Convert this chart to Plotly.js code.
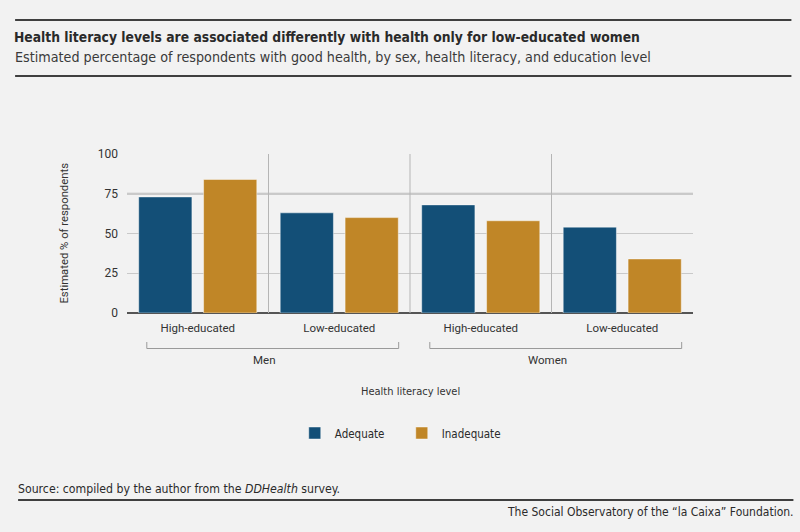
<!DOCTYPE html>
<html>
<head>
<meta charset="utf-8">
<script src="https://cdn.plot.ly/plotly-3.0.1.min.js"></script>
<style>
html,body{margin:0;padding:0;background:#f2f2f2;}
#chart{width:800px;height:532px;}
</style>
</head>
<body>
<div id="chart"></div>
<script>
// ---- data ----
var sexes = ["Men", "Men", "Women", "Women"];
var education = ["High-educated", "Low-educated", "High-educated", "Low-educated"];
var adequate = [73, 63, 68, 54];
var inadequate = [84, 60, 58, 34];
var seriesNames = ["Adequate", "Inadequate"];
var yTicks = [0, 25, 50, 75, 100];

var colors = ["#134f77", "#c08627"];
var condensed = "'DejaVu Sans Condensed', sans-serif";
var regular = "Roboto, 'Liberation Sans', sans-serif";

var keys = sexes.map(function(s, i){ return s + " | " + education[i]; });

var traces = [adequate, inadequate].map(function(vals, k){
  return {
    type: "bar",
    name: seriesNames[k],
    x: keys,
    y: vals,
    marker: {color: colors[k], line: {color: "rgba(255,255,255,0.45)", width: 1}},
    hoverinfo: "y"
  };
});

var plotTop = 154, plotBottom = 313, plotH = plotBottom - plotTop;
function py(pix){ return (plotBottom - pix) / plotH; }
var plotLeft = 127, plotRight = 693.5, plotW = plotRight - plotLeft;
function px(pix){ return (pix - plotLeft) / plotW; }

var shapes = [];
for (var i = 0; i < keys.length - 1; i++) {
  shapes.push({type: "line", xref: "x", yref: "y", x0: i + 0.5, x1: i + 0.5, y0: 0, y1: 100,
    line: {color: "#b5b5b5", width: 1}});
}
shapes.push({type: "line", xref: "paper", yref: "y", x0: 0, x1: 1, y0: 75, y1: 75,
  line: {color: "#bdbdbd", width: 2}, layer: "below"});
var groups = [];
sexes.forEach(function(s, i){
  if (!groups.length || groups[groups.length-1].name !== s) groups.push({name: s, start: i, end: i});
  else groups[groups.length-1].end = i;
});
var bY0 = py(342), bY1 = py(348.5);
groups.forEach(function(g){
  var a = g.start - 0.36, b = g.end + 0.42;
  shapes.push({type: "path", xref: "x", yref: "paper",
    path: "M" + a + "," + bY0 + " L" + a + "," + bY1 + " L" + b + "," + bY1 + " L" + b + "," + bY0,
    line: {color: "#9a9a9a", width: 1}});
});
shapes.push({type: "line", xref: "paper", yref: "paper", x0: px(15), x1: px(792), y0: py(20), y1: py(20), line: {color: "#3f3f3f", width: 2}});
shapes.push({type: "line", xref: "paper", yref: "paper", x0: px(15), x1: px(792), y0: py(76), y1: py(76), line: {color: "#3f3f3f", width: 2}});
shapes.push({type: "line", xref: "paper", yref: "paper", x0: px(18), x1: px(794), y0: py(500), y1: py(500), line: {color: "#3f3f3f", width: 2}});

var annotations = [];
groups.forEach(function(g){
  annotations.push({xref: "x", yref: "paper", x: (g.start + g.end) / 2 - 0.03, y: py(360), text: g.name,
    showarrow: false, xanchor: "center", yanchor: "middle", font: {family: regular, size: 11.5, color: "#333"}});
});
annotations.push({xref: "paper", yref: "paper", x: 0.5, y: py(391), text: "Health literacy level",
  showarrow: false, xanchor: "center", yanchor: "middle", font: {family: condensed, size: 11, color: "#333"}});
annotations.push({xref: "paper", yref: "paper", x: px(64), y: 0.5, text: "Estimated % of respondents", textangle: -90,
  showarrow: false, xanchor: "center", yanchor: "middle", font: {family: regular, size: 11.3, color: "#333"}});
annotations.push({xref: "paper", yref: "paper", x: px(13), y: py(57), text: "Estimated percentage of respondents with good health, by sex, health literacy, and education level",
  showarrow: false, xanchor: "left", yanchor: "middle", font: {family: condensed, size: 14.2, color: "#3a3a3a"}});
annotations.push({xref: "paper", yref: "paper", x: px(16), y: py(489), text: "Source: compiled by the author from the <i>DDHealth</i> survey.",
  showarrow: false, xanchor: "left", yanchor: "middle", font: {family: condensed, size: 12.2, color: "#2a2a2a"}});
annotations.push({xref: "paper", yref: "paper", x: px(797), y: py(512), text: "The Social Observatory of the “la Caixa” Foundation.",
  showarrow: false, xanchor: "right", yanchor: "middle", font: {family: condensed, size: 12, color: "#2a2a2a"}});

var layout = {
  width: 800, height: 532,
  paper_bgcolor: "#f2f2f2", plot_bgcolor: "#f2f2f2",
  margin: {l: plotLeft, r: 800 - plotRight, t: plotTop, b: 532 - plotBottom, pad: 0},
  title: {text: "<b>Health literacy levels are associated differently with health only for low-educated women</b>",
    xref: "container", yref: "container", x: 14/800, xanchor: "left", y: 1 - 37/532, yanchor: "middle",
    font: {family: condensed, size: 13.75, color: "#2a2a2a"}},
  barmode: "group", bargap: 0.083, bargroupgap: 0.18,
  showlegend: true,
  legend: {orientation: "h", x: px(402), xanchor: "center", y: py(433), yanchor: "middle",
    entrywidth: 62, entrywidthmode: "pixels",
    font: {family: condensed, size: 11.5, color: "#2a2a2a"}, bgcolor: "rgba(0,0,0,0)"},
  xaxis: {type: "category", tickvals: keys, ticktext: education, showgrid: false, zeroline: false,
    showline: false, ticks: "", ticklabelstandoff: 6,
    tickfont: {family: regular, size: 11.5, color: "#333"}, fixedrange: true},
  yaxis: {range: [0, 100], tickvals: yTicks, showgrid: true, gridcolor: "#c9c9c9", gridwidth: 1,
    zeroline: true, zerolinecolor: "#555", zerolinewidth: 1.5, showline: false, ticks: "",
    ticklabelstandoff: 8, tickfont: {family: regular, size: 12, color: "#333"}, fixedrange: true},
  shapes: shapes,
  annotations: annotations
};

Plotly.newPlot("chart", traces, layout, {displayModeBar: false, staticPlot: true});
</script>
</body>
</html>
